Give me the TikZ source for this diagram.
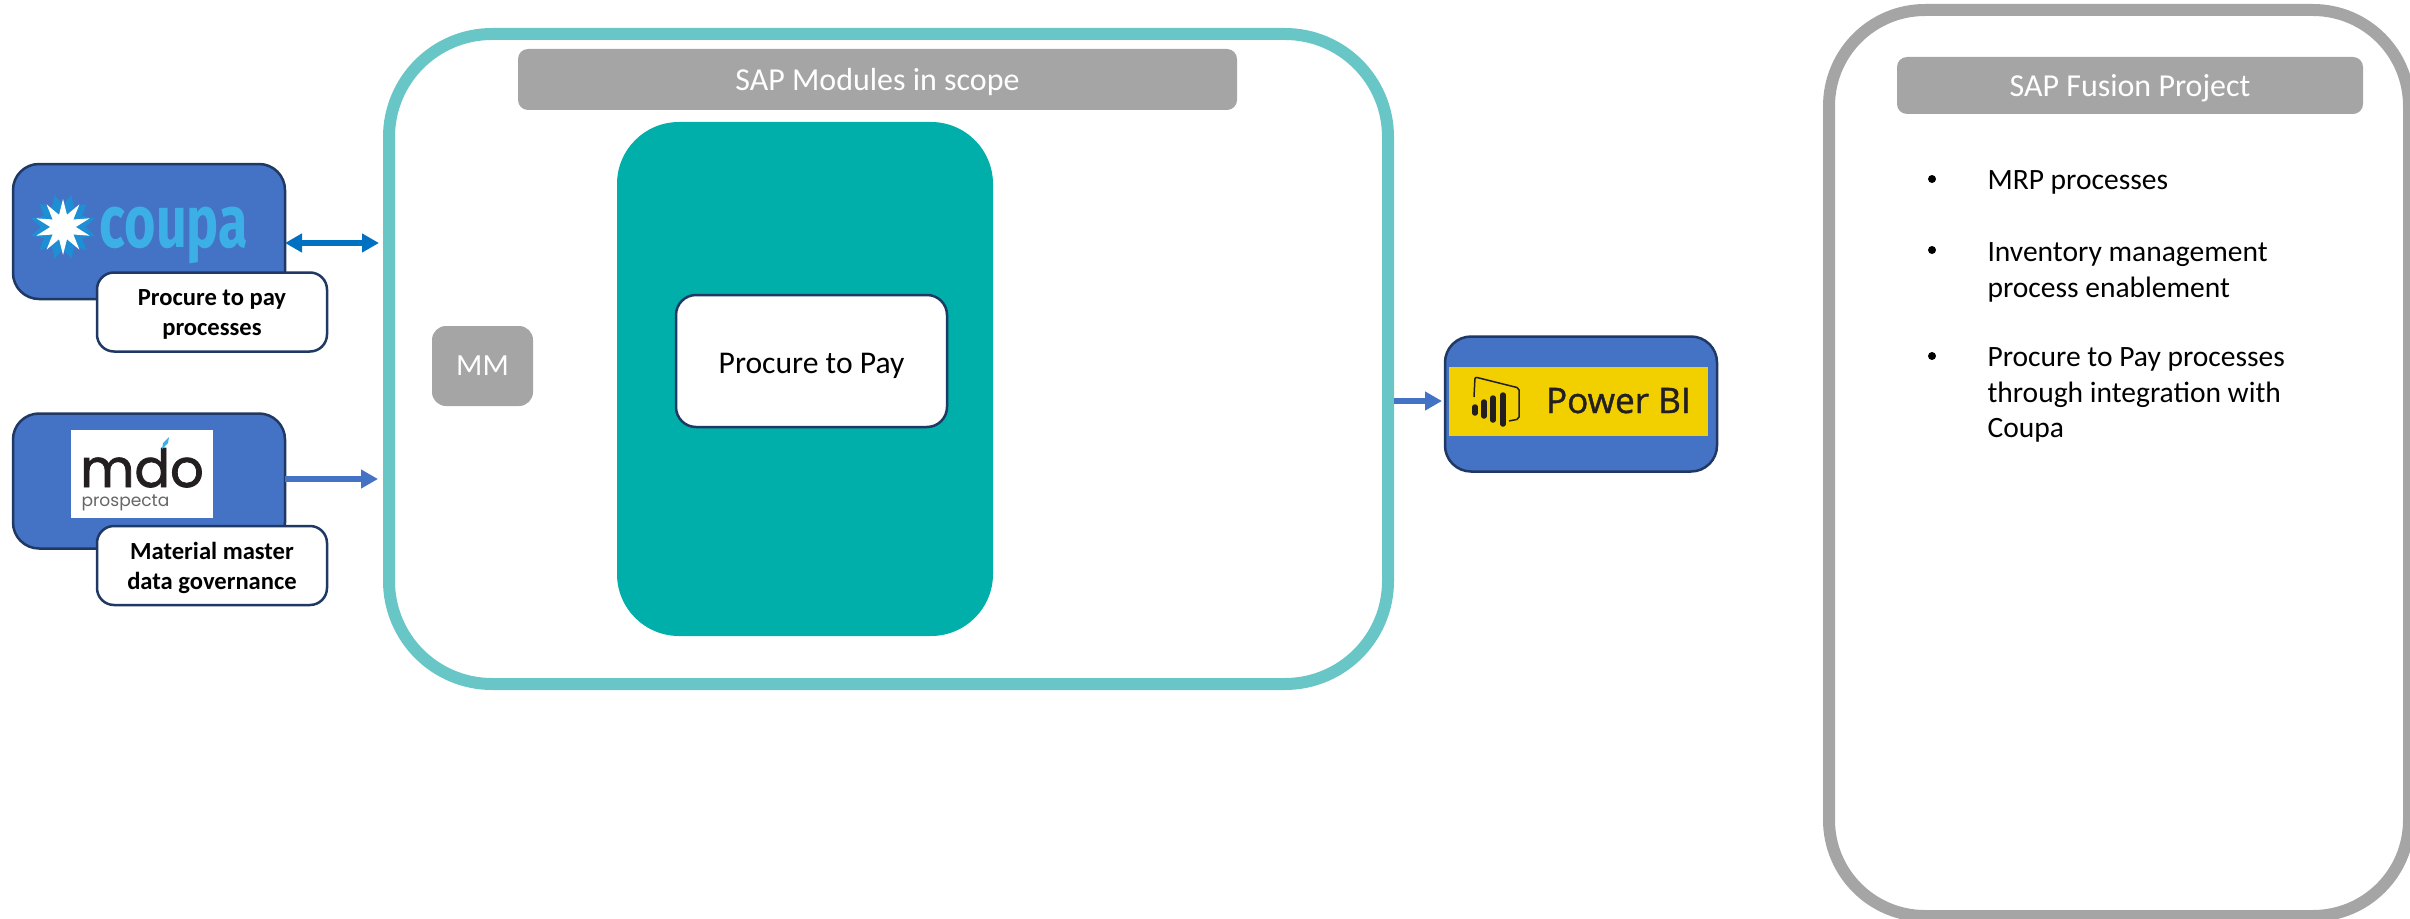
\documentclass[tikz,border=0pt]{standalone}
\usepackage{fontspec}
\setmainfont{Carlito}
\newfontfamily\logofont{Fira Sans}
\newfontfamily\mdofont{Poppins}
\newfontfamily\mdobold[FakeBold=1.5]{Poppins}
\newfontfamily\bifont[FakeBold=1.2]{Open Sans}
\usetikzlibrary{arrows.meta, positioning}
\definecolor{frameteal}{HTML}{69C6C7}
\definecolor{blockteal}{HTML}{00AFA9}
\definecolor{headgrey}{HTML}{A5A5A5}
\definecolor{toolblue}{HTML}{4472C4}
\definecolor{toolline}{HTML}{1F3864}
\definecolor{linkblue}{HTML}{0070C0}
\definecolor{biyellow}{HTML}{F2D000}
\definecolor{coupasky}{HTML}{3CB0E6}
\definecolor{coupamid}{HTML}{1E8FD5}
\definecolor{mdoblack}{HTML}{231F20}
\def\px{0.02cm}
\tikzset{
  box/.style={inner sep=0pt, outer sep=0pt},
  frame/.style={box, draw, line width=12*\px, rounded corners=103*\px},
  head/.style={box, fill=headgrey, rounded corners=10*\px, text=white, text height=16pt, text depth=3.5pt,
    font=\fontsize{18.2}{22}\selectfont},
  tool/.style={box, fill=toolblue, draw=toolline, line width=2.5*\px, rounded corners=26*\px,
    minimum width=272*\px, minimum height=135*\px},
  caption/.style={box, fill=white, draw=toolline, line width=2.5*\px, rounded corners=17*\px,
    minimum width=230*\px, minimum height=79*\px, align=center, text height=29.3pt,
    font=\fontsize{14}{17}\selectfont\bfseries},
  listitem/.style={box, anchor=north west, align=left, font=\fontsize{16.8}{20}\selectfont},
  dot/.style={circle, fill=black, inner sep=0pt, minimum size=8*\px},
  link/.style={line width=6*\px},
}
\begin{document}
\begin{tikzpicture}[x=\px, y=-\px, >={Triangle[length=17*\px, width=18*\px]}]
    \useasboundingbox (0,0) rectangle (2410,919);

    %the two big frames
    \node[frame, draw=frameteal, minimum width=999*\px, minimum height=650*\px] (sap) at (888.5,359) {};
    \node[frame, draw=headgrey, minimum width=580*\px, minimum height=906*\px, rounded corners=96*\px] (fusion) at (2119,463) {};

    %inside the sap frame
    \node[head, minimum width=719*\px, minimum height=61*\px] (scope) at (877.5,79.5) {SAP Modules in scope};
    \node[box, fill=blockteal, rounded corners=62*\px, minimum width=376*\px, minimum height=514*\px] (block) at (805,379) {};
    \node[box, fill=white, draw=toolline, line width=2.5*\px, rounded corners=20*\px, minimum width=271*\px, minimum height=132*\px,
          text height=18pt, text depth=3.5pt, font=\fontsize{18}{22}\selectfont] (p2p) at (811.5,361) {Procure to Pay};
    \node[box, fill=headgrey, text=white, rounded corners=14*\px, minimum width=101*\px, minimum height=80*\px,
          font=\fontsize{17.5}{21}\selectfont] (mm) at (482.5,366) {MM};

    %inside the fusion frame
    \node[head, minimum width=466*\px, minimum height=57*\px] (fhead) at (2130,85.5) {SAP Fusion Project\hspace{4pt}};
    \node[listitem] (item1) at (1987.5,171) {MRP processes};
    \node[listitem] (item2) at (1987.5,243) {Inventory management\\process enablement};
    \node[listitem] (item3) at (1987.5,348) {Procure to Pay processes\\through integration with\\Coupa};
    \foreach \n/\y in {1/179, 2/250, 3/356}
      \node[dot] (dot\n) at (1932,\y) {};

    %coupa
    \node[tool] (coupa) at (149,231.5) {};
    \node[caption] (coupacap) at (212,312) {Procure to pay\\processes};
    \node[box, text=coupasky, font=\fontsize{42}{42}\logofont\bfseries, xscale=0.73, anchor=base] (coupaname) at (174,247) {coupa};
    \coordinate (star) at (63,227);
    \foreach \a in {0,30,...,330}
      \fill[coupamid, rotate around={\a+15:(star)}] (star) ++(0,-33) -- ++(7,14) -- ++(-7,19) -- ++(-7,-19) -- cycle;
    \foreach \a in {0,36,...,324}
      \fill[white, rotate around={\a:(star)}] (star) ++(0,-28) -- ++(5,20) -- ++(-5,8) -- ++(-5,-8) -- cycle;

    %mdo
    \node[tool] (mdo) at (149,481) {};
    \node[caption] (mdocap) at (212,565.5) {Material master\\data governance};
    \node[box, fill=white, minimum width=142*\px, minimum height=88*\px] (mdologo) at (142,474) {};
    \node[box, text=mdoblack, font=\fontsize{30}{30}\mdobold, anchor=base] (mdoname) at (142,487) {mdo};
    \node[box, text=black!60, font=\fontsize{9.7}{10}\mdofont, anchor=base] (prospecta) at (125.5,506) {prospecta};
    \fill[coupasky] (162,449) -- (163,443) -- (169,437) -- (168,443) -- cycle;

    %power bi
    \node[tool] (pbi) at (1581,404) {};
    \node[box, fill=biyellow, minimum width=259*\px, minimum height=69*\px] (bilogo) at (1578.5,401.5) {};
    \node[box, text=mdoblack, font=\fontsize{20}{20}\bifont, anchor=base west] (biname) at (1546,413) {Power BI};
    \draw[mdoblack, line width=1.5*\px, rounded corners=2*\px] (1474,397) -- (1475,377) -- (1519,388) -- (1519,419) -- (1509,421);
    \foreach \x/\t/\b in {1475/407/413, 1484/402/416, 1493/398/420, 1503/395/424}
      \draw[mdoblack, line width=5.5*\px, line cap=round] (\x,\t) -- (\x,\b);

    %define the links
    \coordinate (coupain) at (379,243);
    \coordinate (mdoin) at (378,479);
    \coordinate (biout) at (1442,401);
    \draw[link, linkblue, <->] (coupa.east |- coupain) -- (coupain);
    \draw[link, toolblue, ->] (mdo.east |- mdoin) -- (mdoin);
    \draw[link, toolblue, ->, shorten <=6*\px] (sap.east |- biout) -- (biout);
\end{tikzpicture}
\end{document}
